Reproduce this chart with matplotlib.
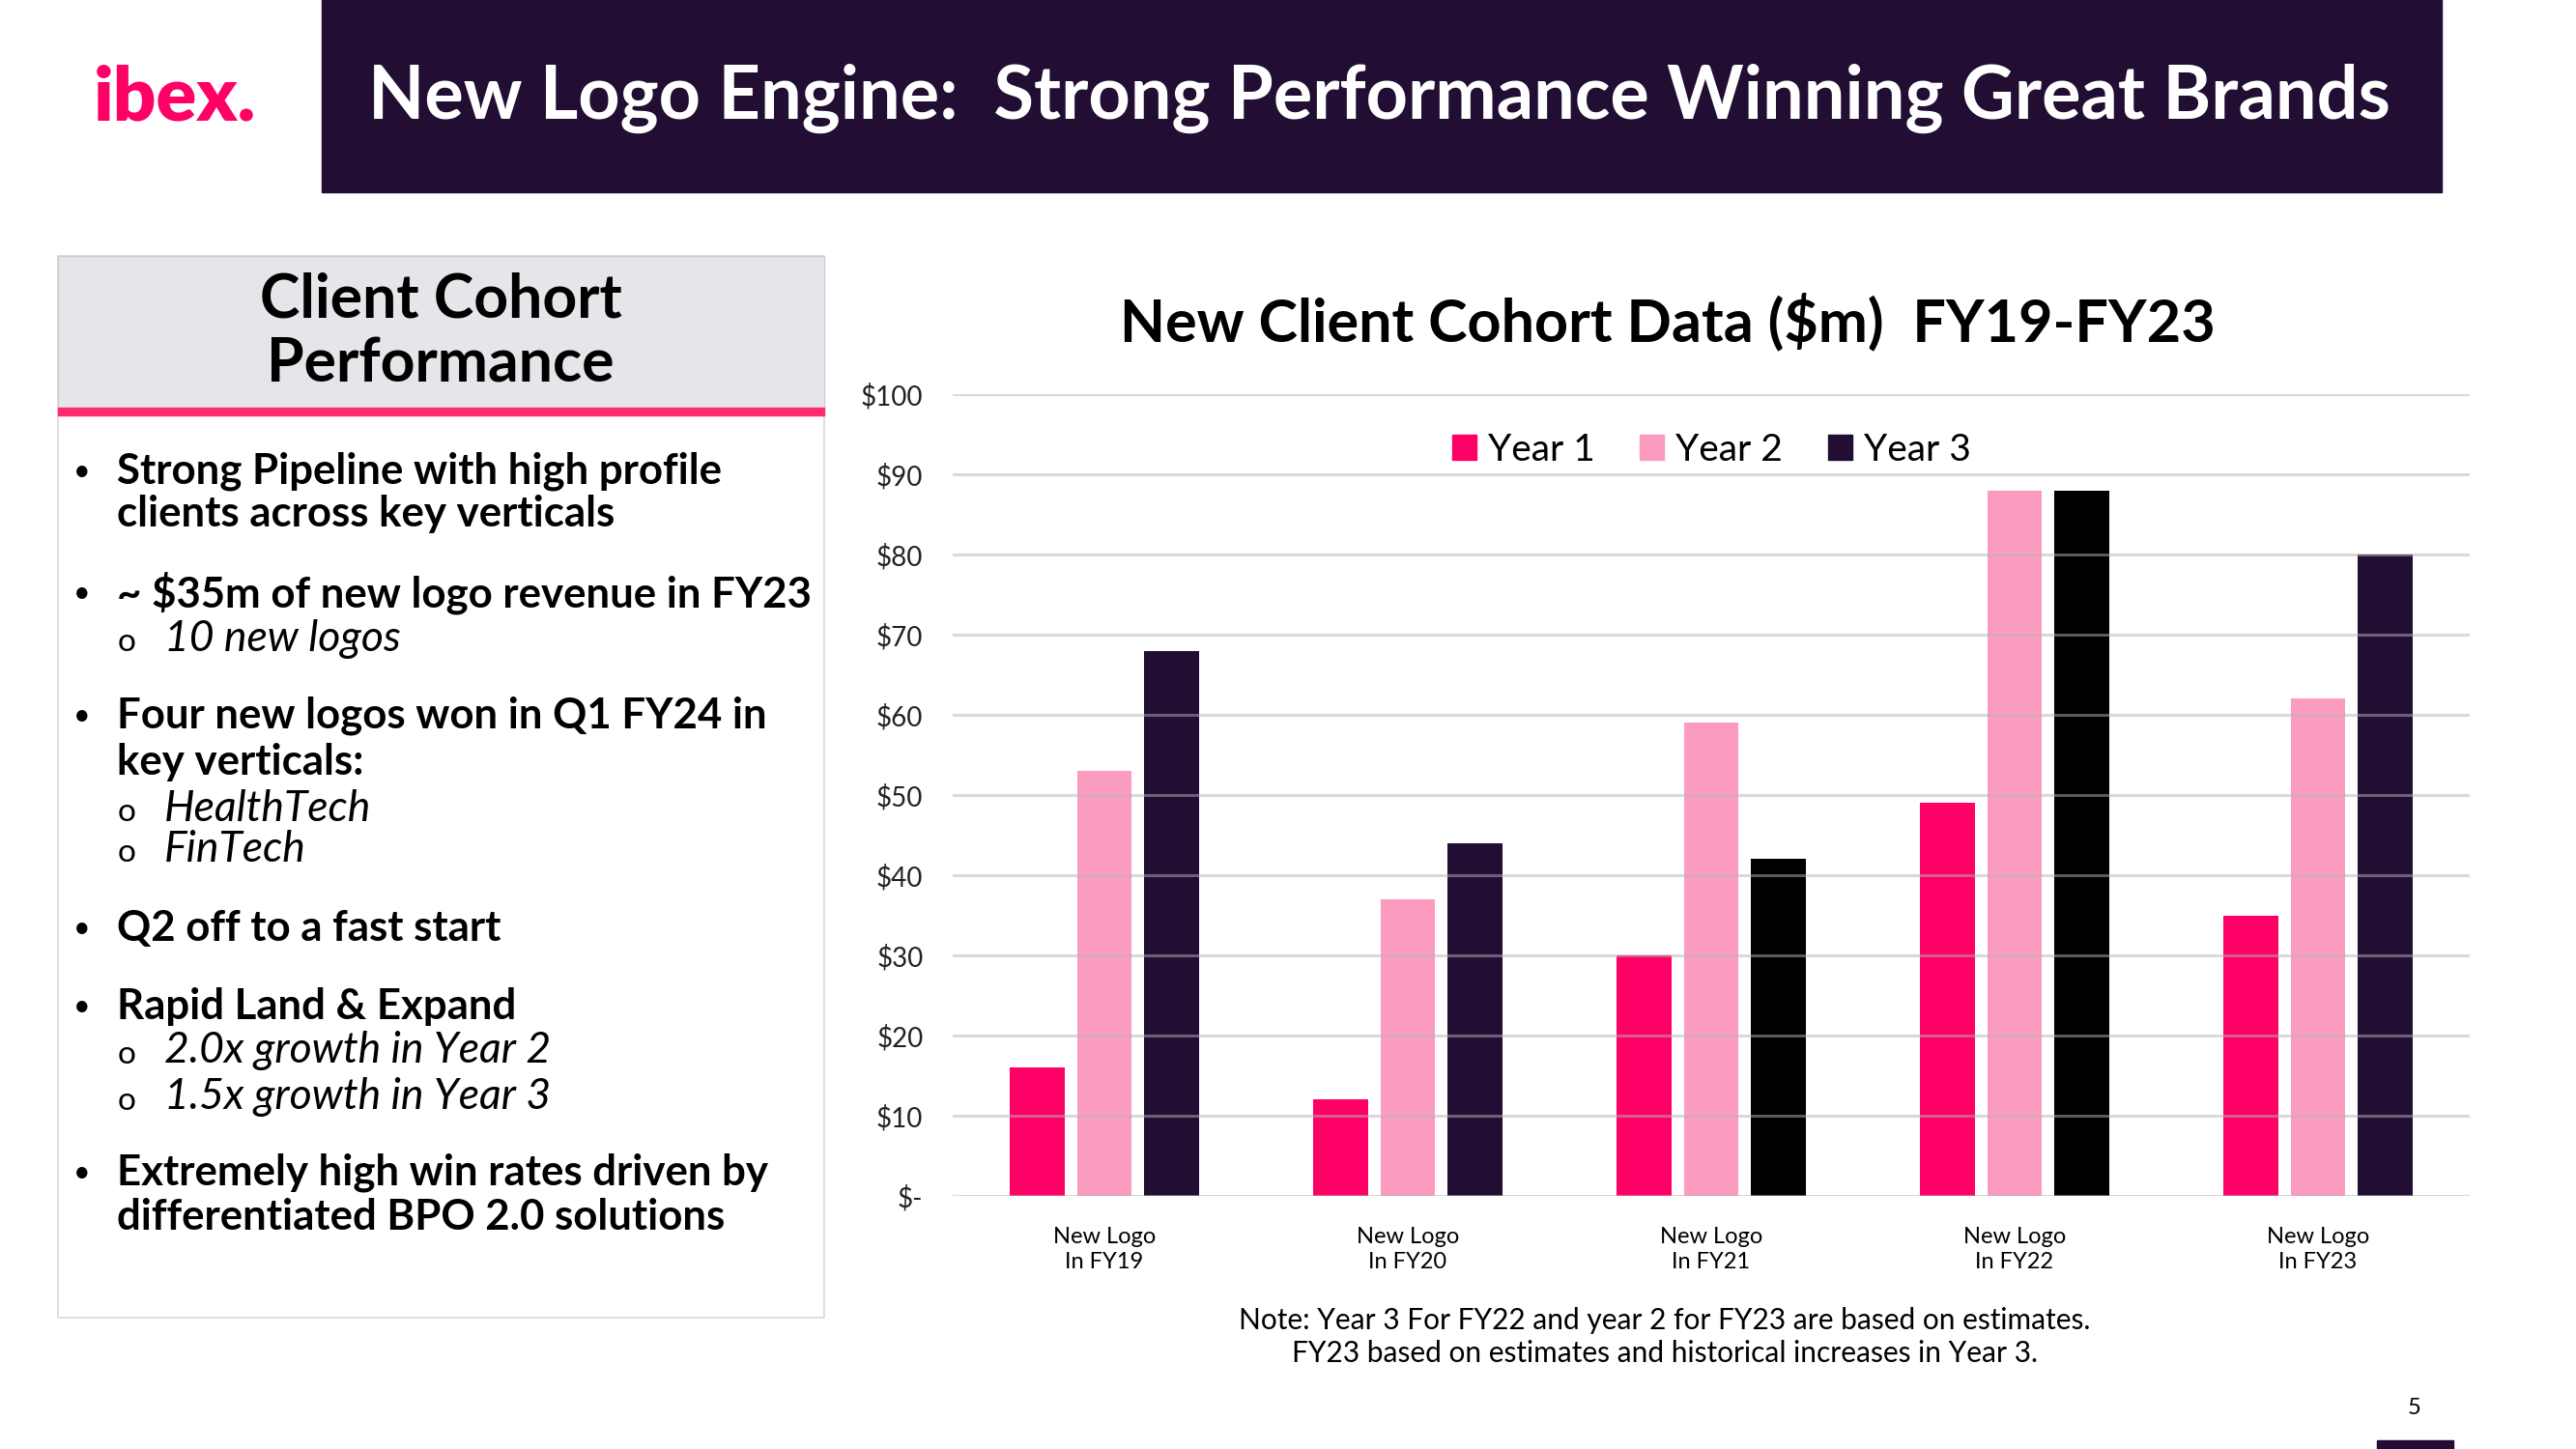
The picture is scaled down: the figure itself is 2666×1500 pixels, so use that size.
import numpy as np
import matplotlib
matplotlib.use("Agg")
from matplotlib import pyplot as plt
from matplotlib.patches import Rectangle

plt.rcParams['font.family'] = ['Lato', 'DejaVu Sans']

# Chart data ($m)
cohorts = ["New Logo\nIn FY19", "New Logo\nIn FY20", "New Logo\nIn FY21",
           "New Logo\nIn FY22", "New Logo\nIn FY23"]
year1 = [16, 12, 30, 49, 35]
year2 = [53, 37, 59, 88, 62]
year3 = [68, 44, 42, 88, 80]
series_names = ["Year 1", "Year 2", "Year 3"]
y_ticks = [0, 10, 20, 30, 40, 50, 60, 70, 80, 90, 100]
y_tick_labels = ["$-", "$10", "$20", "$30", "$40", "$50", "$60", "$70", "$80", "$90", "$100"]

# Left panel text: (kind, text)
bullets = [
    ("b", "Strong Pipeline with high profile"),
    ("c", "clients across key verticals"),
    ("b", "~ $35m of new logo revenue in FY23"),
    ("s", "10 new logos"),
    ("b", "Four new logos won in Q1 FY24 in"),
    ("c", "key verticals:"),
    ("s", "HealthTech"),
    ("s", "FinTech"),
    ("b", "Q2 off to a fast start"),
    ("b", "Rapid Land & Expand"),
    ("s", "2.0x growth in Year 2"),
    ("s", "1.5x growth in Year 3"),
    ("b", "Extremely high win rates driven by"),
    ("c", "differentiated BPO 2.0 solutions"),
]
bullet_rows = [488, 532, 614, 661, 741, 789, 837, 879, 961, 1042, 1088, 1136, 1214, 1260]

PINK = '#ff0066'
LIGHT_PINK = '#fc9bc0'
DARK = '#220d33'
year3_colors = [DARK, DARK, '#000000', '#000000', DARK]

W, H = 2666, 1500
fig = plt.figure(figsize=(26.66, 15), dpi=100)


def fx(x):
    return x / W


def fy(y):
    return 1 - y / H


# header bar and logo
fig.patches.append(Rectangle((fx(333), fy(199)), fx(2527) - fx(333), 199 / H,
                             transform=fig.transFigure, color=DARK, zorder=0))
fig.text(fx(97), fy(102), "ibex.", color=PINK, fontsize=56, fontweight='heavy',
         va='center', ha='left')
fig.text(fx(381), fy(102), "New Logo Engine:  Strong Performance Winning Great Brands",
         color='white', fontsize=54.5, fontweight='bold', va='center', ha='left')

# left panel
fig.patches.append(Rectangle((fx(60), fy(1364)), fx(853) - fx(60), (1364 - 265) / H,
                             transform=fig.transFigure, facecolor='white',
                             edgecolor='#d9d9d9', lw=1.2, zorder=0))
fig.patches.append(Rectangle((fx(60), fy(422)), fx(853) - fx(60), (422 - 265) / H,
                             transform=fig.transFigure, facecolor='#e6e5ea',
                             edgecolor='#cfcfd4', lw=1, zorder=1))
fig.patches.append(Rectangle((fx(60), fy(430)), fx(853) - fx(60), 8 / H,
                             transform=fig.transFigure, color='#ff2d6e', zorder=2))
fig.text(fx(456), fy(344), "Client Cohort\nPerformance", fontsize=45, fontweight='bold',
         ha='center', va='center', linespacing=1.2, color='black')

for (kind, txt), row in zip(bullets, bullet_rows):
    if kind == "b":
        fig.text(fx(85), fy(row), "•", fontsize=22, ha='center', va='center')
    if kind in ("b", "c"):
        fig.text(fx(121), fy(row), txt, fontsize=31.5, fontweight='bold',
                 ha='left', va='center')
    else:
        fig.text(fx(131), fy(row + 4), "o", fontsize=24, ha='center', va='center')
        fig.text(fx(170), fy(row), txt, fontsize=32, fontstyle='italic',
                 ha='left', va='center')

# chart
ax = fig.add_axes([fx(986), fy(1238), fx(2556) - fx(986), (1238 - 408) / H])
x = np.arange(len(cohorts))
w = 0.18
gap = 0.222
ax.bar(x - gap, year1, w, color=PINK, label=series_names[0], zorder=2)
ax.bar(x, year2, w, color=LIGHT_PINK, label=series_names[1], zorder=2)
ax.bar(x + gap, year3, w, color=year3_colors, label=series_names[2], zorder=2)

ax.set_xlim(-0.5, len(cohorts) - 0.5)
ax.set_ylim(0, 100)
ax.set_yticks(y_ticks)
ax.set_yticklabels(y_tick_labels, fontsize=20, color='#222222')
ax.set_xticks(x)
ax.set_xticklabels(cohorts, fontsize=17, linespacing=1.3)
ax.tick_params(axis='both', length=0)
ax.tick_params(axis='y', pad=22)
ax.tick_params(axis='x', pad=23)
for s in ax.spines.values():
    s.set_visible(False)
ax.yaxis.grid(True, color='#b5b5b5', alpha=0.5, lw=2.2, zorder=3)
ax.set_axisbelow(False)

handles = [Rectangle((0, 0), 1, 1, color=c) for c in (PINK, LIGHT_PINK, DARK)]
ax.legend(handles, series_names, loc='center', bbox_to_anchor=(0.5, 0.93), ncol=3,
          frameon=False, fontsize=28, handlelength=0.65, handleheight=0.65,
          handletextpad=0.3, columnspacing=1.2)

fig.text(fx(1726), fy(333), "New Client Cohort Data ($m)  FY19-FY23", fontsize=44,
         fontweight='bold', ha='center', va='center')
fig.text(fx(1723), fy(1384),
         "Note: Year 3 For FY22 and year 2 for FY23 are based on estimates.\n"
         "FY23 based on estimates and historical increases in Year 3.",
         fontsize=21.5, ha='center', va='center', linespacing=1.3)

# page number and footer mark
fig.text(fx(2499), fy(1458), "5", fontsize=17, ha='center', va='center')
fig.patches.append(Rectangle((fx(2460), 0), fx(2539) - fx(2460), 9 / H,
                             transform=fig.transFigure, color=DARK, zorder=0))

fig.savefig("out.png", dpi=100)
